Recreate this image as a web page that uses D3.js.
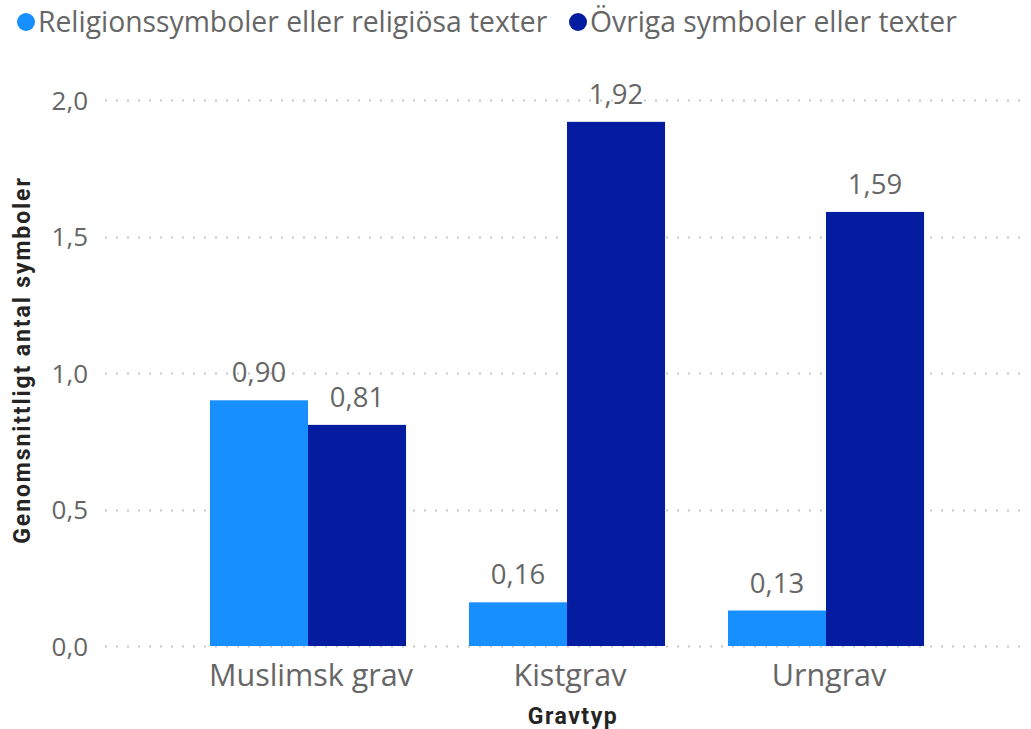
<!DOCTYPE html>
<html><head><meta charset="utf-8">
<script src="https://cdn.jsdelivr.net/npm/d3@7"></script>
<style>
body{margin:0;background:#fff;}
svg{display:block;}
</style></head>
<body>
<svg id="chart" width="1031" height="729"></svg>
<script>
const categories = ["Muslimsk grav", "Kistgrav", "Urngrav"];
const seriesNames = ["Religionssymboler eller religiösa texter", "Övriga symboler eller texter"];
const religious = [0.90, 0.16, 0.13];
const other = [0.81, 1.92, 1.59];
const yTicks = [0, 0.5, 1.0, 1.5, 2.0];
const colors = ["#188FFF", "#041C9F"];

const svg = d3.select("#chart");
const font = "'Open Sans', 'Noto Sans', sans-serif";
const textColor = "#666666";
const fmt = v => d3.format(".2f")(v).replace(".", ",");
const fmtTick = v => d3.format(".1f")(v).replace(".", ",");

const y = d3.scaleLinear().domain([0, 2]).range([646, 100]);
const x = d3.scaleBand().domain(categories).range([178.5, 955.5]).paddingInner(0.243).paddingOuter(0.1215);
const xs = d3.scaleBand().domain(seriesNames).range([0, x.bandwidth()]);

const yAxis = d3.axisLeft(y).tickValues(yTicks).tickSize(0).tickFormat(fmtTick);
const gAxis = svg.append("g").attr("transform", "translate(88,0)").call(yAxis);
gAxis.select(".domain").remove();
gAxis.selectAll("text").attr("x", 0).attr("dy", "0.35em")
  .style("font-family", font).style("font-size", "26px").attr("fill", textColor);

svg.append("g").selectAll("line").data(yTicks).join("line")
  .attr("x1", 105).attr("x2", 1028)
  .attr("y1", d => Math.round(y(d)) + 0.5).attr("y2", d => Math.round(y(d)) + 0.5)
  .attr("stroke", "#c8c8c8").attr("stroke-width", 2)
  .attr("stroke-dasharray", "2 9");

const data = categories.map((c, i) => ({c, vals: [religious[i], other[i]]}));

const groups = svg.append("g").selectAll("g").data(data).join("g")
  .attr("transform", d => `translate(${x(d.c)},0)`);

groups.selectAll("rect").data(d => d.vals.map((v, j) => ({v, s: seriesNames[j], j})))
  .join("rect")
  .attr("x", d => xs(d.s)).attr("width", xs.bandwidth())
  .attr("y", d => y(d.v)).attr("height", d => y(0) - y(d.v))
  .attr("fill", d => colors[d.j]);

groups.selectAll("text.lbl").data(d => d.vals.map((v, j) => ({v, s: seriesNames[j], j})))
  .join("text").attr("class", "lbl")
  .attr("x", d => xs(d.s) + xs.bandwidth() / 2)
  .attr("y", d => y(d.v) - 18)
  .attr("text-anchor", "middle")
  .style("font-family", font).style("font-size", "27.5px").attr("fill", textColor)
  .text(d => fmt(d.v));

const xAxis = d3.axisBottom(x).tickSize(0);
const gx = svg.append("g").attr("transform", "translate(3,659)").call(xAxis);
gx.select(".domain").remove();
gx.selectAll("text").attr("y", 0).attr("dy", "0.9em")
  .style("font-family", font).style("font-size", "30.5px").attr("fill", textColor);

const titleFont = "Roboto, 'DejaVu Sans', sans-serif";
svg.append("text").attr("x", 573).attr("y", 724).attr("text-anchor", "middle")
  .style("font-family", titleFont).style("font-size", "23px").style("font-weight", "bold")
  .style("letter-spacing", "1.5px")
  .attr("fill", "#252423").text("Gravtyp");
svg.append("text").attr("transform", "translate(30,360) rotate(-90)").attr("text-anchor", "middle")
  .style("font-family", titleFont).style("font-size", "23px").style("font-weight", "bold")
  .style("letter-spacing", "1.9px")
  .attr("fill", "#252423").text("Genomsnittligt antal symboler");

const legendX = [26, 578];
const lg = svg.append("g").selectAll("g").data(seriesNames).join("g")
  .attr("transform", (d, i) => `translate(${legendX[i]},22)`);
lg.append("circle").attr("r", 9).attr("fill", (d, i) => colors[i]);
lg.append("text").attr("x", 12).attr("dy", "0.35em")
  .style("font-family", font).style("font-size", "28.3px").attr("fill", textColor)
  .text(d => d);
</script>
</body></html>
